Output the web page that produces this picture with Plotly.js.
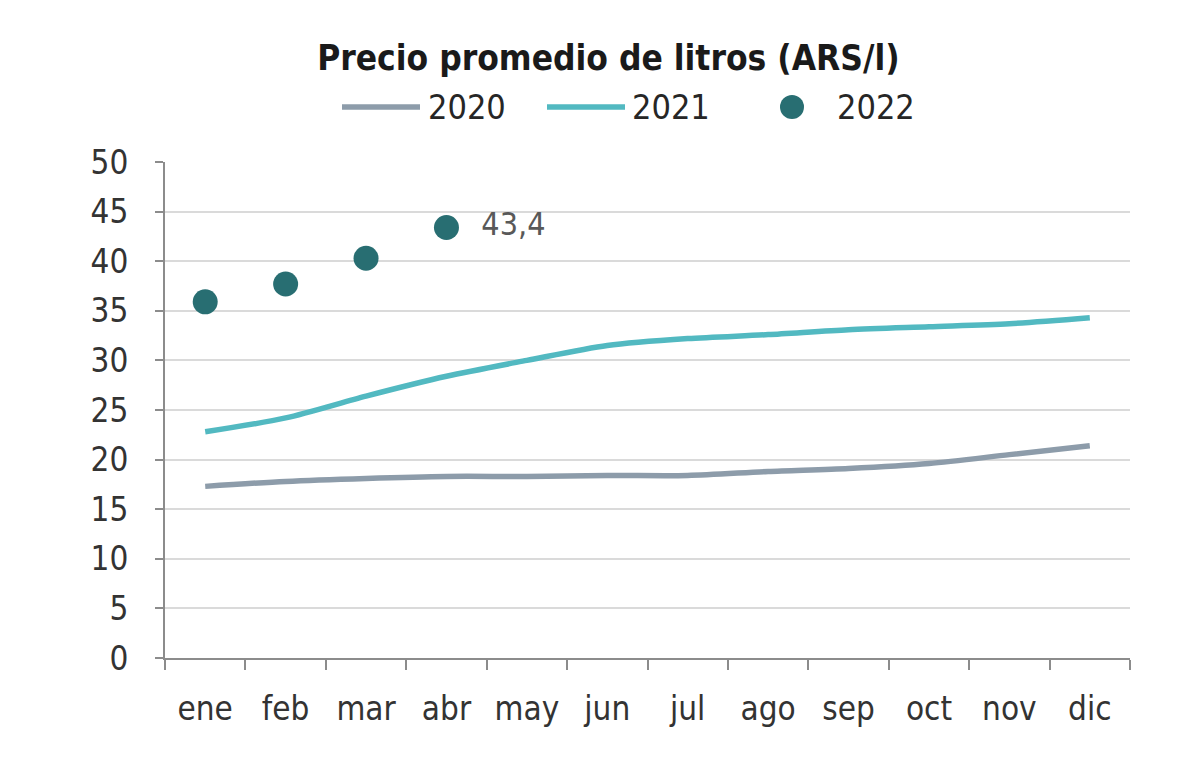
<!DOCTYPE html>
<html>
<head>
<meta charset="utf-8">
<script src="https://cdn.plot.ly/plotly-3.0.1.min.js"></script>
<style>
  html, body { margin: 0; padding: 0; background: #fff; }
  #chart { width: 1200px; height: 782px; }
</style>
</head>
<body>
<div id="chart"></div>
<script>
// Precio promedio de litros, ARS por litro, por mes
const months = ['ene', 'feb', 'mar', 'abr', 'may', 'jun', 'jul', 'ago', 'sep', 'oct', 'nov', 'dic'];
const precio2020 = [17.3, 17.8, 18.1, 18.3, 18.3, 18.4, 18.4, 18.8, 19.1, 19.6, 20.5, 21.4];
const precio2021 = [22.8, 24.2, 26.4, 28.4, 30.0, 31.5, 32.2, 32.6, 33.1, 33.4, 33.7, 34.3];
const precio2022 = [35.9, 37.7, 40.3, 43.4];
const years = ['2020', '2021', '2022'];
const yTicks = [0, 5, 10, 15, 20, 25, 30, 35, 40, 45, 50];

const FONT = '"Liberation Sans Narrow", "DejaVu Sans Condensed", Roboto, sans-serif';
const C2020 = '#8d9caa';
const C2021 = '#52b9c1';
const C2022 = '#286e72';

// only the latest 2022 value carries a label
const label2022 = precio2022.map((v, i) => i === precio2022.length - 1 ? '\u00a0\u00a0%{y:.1f}' : '');

const traces = [
  {
    x: months, y: precio2020, name: years[0], type: 'scatter', mode: 'lines',
    line: { color: C2020, width: 5.5, shape: 'spline', smoothing: 0.8 },
    showlegend: false
  },
  {
    x: months, y: precio2021, name: years[1], type: 'scatter', mode: 'lines',
    line: { color: C2021, width: 5.5, shape: 'spline', smoothing: 0.8 },
    showlegend: false
  },
  {
    x: months.slice(0, precio2022.length), y: precio2022, name: years[2],
    type: 'scatter', mode: 'markers+text',
    marker: { color: C2022, size: 25 },
    texttemplate: label2022, textposition: 'middle right',
    textfont: { family: FONT, size: 32, color: '#595959' },
    showlegend: false
  }
];

// legend row drawn in paper pixels above the plot area
const W = 1200, H = 782;
const L = { l: 165, r: 70, t: 162, b: 124 };
const pw = W - L.l - L.r, ph = H - L.t - L.b;
const fx = x => (x - L.l) / pw;          // page x -> paper x
const fy = y => (H - L.b - y) / ph;      // page y -> paper y

const legendY = 107;
const shapes = [
  { type: 'line', xref: 'paper', yref: 'paper', x0: fx(342), x1: fx(420), y0: fy(legendY), y1: fy(legendY),
    line: { color: C2020, width: 5.5 } },
  { type: 'line', xref: 'paper', yref: 'paper', x0: fx(547), x1: fx(625), y0: fy(legendY), y1: fy(legendY),
    line: { color: C2021, width: 5.5 } },
  { type: 'circle', xref: 'paper', yref: 'paper', xsizemode: 'pixel', ysizemode: 'pixel',
    xanchor: fx(792), yanchor: fy(legendY), x0: -12, x1: 12, y0: -12, y1: 12,
    fillcolor: C2022, line: { width: 0 } }
];

const legendFont = { family: FONT, size: 34, color: '#262626' };
const annotations = [
  { xref: 'paper', yref: 'paper', x: fx(426), y: fy(legendY), text: years[0], showarrow: false,
    xanchor: 'left', yanchor: 'middle', font: legendFont },
  { xref: 'paper', yref: 'paper', x: fx(630), y: fy(legendY), text: years[1], showarrow: false,
    xanchor: 'left', yanchor: 'middle', font: legendFont },
  { xref: 'paper', yref: 'paper', x: fx(835), y: fy(legendY), text: years[2], showarrow: false,
    xanchor: 'left', yanchor: 'middle', font: legendFont }
];

const layout = {
  width: W, height: H,
  margin: L,
  paper_bgcolor: '#ffffff', plot_bgcolor: '#ffffff',
  separators: ',.',
  title: {
    text: '<b>Precio promedio de litros (ARS/l)</b>',
    font: { family: FONT, size: 35, color: '#1a1a1a' },
    x: 0.507, xanchor: 'center', y: 1 - 58 / H, yanchor: 'middle'
  },
  showlegend: false,
  xaxis: {
    type: 'category',
    tickson: 'boundaries',
    ticks: 'outside', ticklen: 10, tickwidth: 2, tickcolor: '#8c8c8c',
    showline: true, linecolor: '#8c8c8c', linewidth: 2,
    showgrid: false, zeroline: false,
    tickfont: { family: FONT, size: 33, color: '#333333' },
    ticklabelstandoff: 20,
    range: [-0.5, 11.5],
    fixedrange: true
  },
  yaxis: {
    range: [0, 50],
    tickvals: yTicks,
    ticks: 'outside', ticklen: 8, tickwidth: 2, tickcolor: '#8c8c8c',
    showline: true, linecolor: '#8c8c8c', linewidth: 2,
    showgrid: true, gridcolor: '#dadada', gridwidth: 2,
    zeroline: false,
    tickfont: { family: FONT, size: 33, color: '#333333' },
    ticklabelstandoff: 20,
    fixedrange: true
  },
  shapes: shapes,
  annotations: annotations
};

Plotly.newPlot('chart', traces, layout, { displayModeBar: false, staticPlot: true });
</script>
</body>
</html>
